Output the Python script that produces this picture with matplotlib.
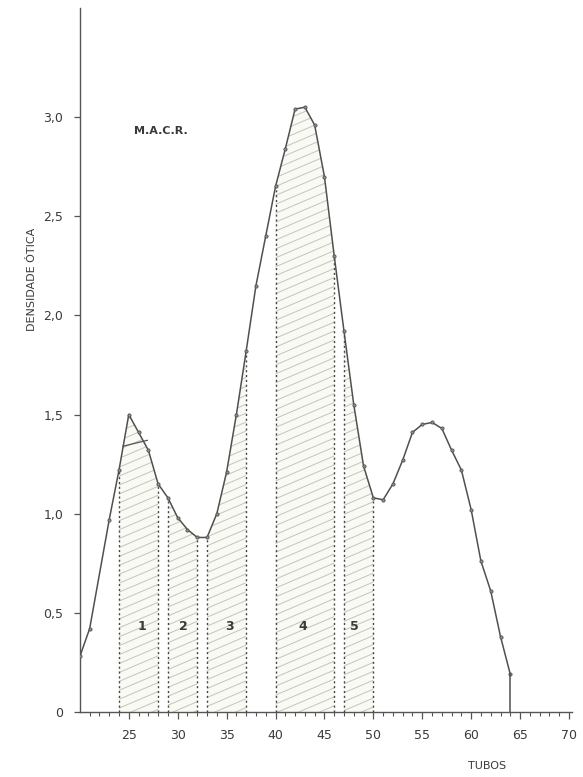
import numpy as np
import matplotlib.pyplot as plt
from matplotlib.patches import Polygon

# tubos e densidade otica
tubos = [20, 21, 23, 24, 25, 26, 27, 28, 29, 30, 31, 32, 33, 34, 35, 36, 37, 38, 39,
         40, 41, 42, 43, 44, 45, 46, 47, 48, 49, 50, 51, 52, 53, 54, 55, 56, 57, 58,
         59, 60, 61, 62, 63, 64]
densidade = [0.28, 0.42, 0.97, 1.22, 1.50, 1.41, 1.32, 1.15, 1.08, 0.98, 0.92, 0.88,
             0.88, 1.00, 1.21, 1.50, 1.82, 2.15, 2.40, 2.65, 2.84, 3.04, 3.05, 2.96,
             2.70, 2.30, 1.92, 1.55, 1.24, 1.08, 1.07, 1.15, 1.27, 1.41, 1.45, 1.46,
             1.43, 1.32, 1.22, 1.02, 0.76, 0.61, 0.38, 0.19]

# fracoes (inicio, fim, rotulo)
frac_ini = [24, 29, 33, 40, 47]
frac_fim = [28, 32, 37, 46, 50]
frac_rot = ['1', '2', '3', '4', '5']
rot_x = [26.3, 30.6, 35.3, 42.8, 48.1]

y_ticks = [0, 0.5, 1.0, 1.5, 2.0, 2.5, 3.0]
y_labels = ['0', '0,5', '1,0', '1,5', '2,0', '2,5', '3,0']
x_ticks = [25, 30, 35, 40, 45, 50, 55, 60, 65, 70]

cor = '#3a3a3a'
x = np.array(tubos)
y = np.array(densidade)

fig = plt.figure(figsize=(5.83, 7.77), dpi=100)
ax = fig.add_axes([0.137, 0.0837, 0.844, 0.906])

# areas hachuradas
for a, b in zip(frac_ini, frac_fim):
    m = (x >= a) & (x <= b)
    verts = [(a, 0)] + list(zip(x[m], y[m])) + [(b, 0)]
    poly = Polygon(verts, closed=True, facecolor='#fafaf5', edgecolor='none', zorder=1)
    ax.add_patch(poly)
    xs = np.array([a - 1, b + 1])
    for c in np.arange(-2.0, 3.5, 0.045):
        ln, = ax.plot(xs, c + 0.021 * (xs - 20), color='#c4c4bc', lw=0.7, zorder=2)
        ln.set_clip_path(poly)
    for xv in (a, b):
        yv = y[x == xv][0]
        ax.plot([xv, xv], [0, yv], color='#444444', lw=1.0, ls=(0, (1.5, 2)), zorder=3)

# linha extra no topo da fracao 1
ax.plot([24.4, 26.9], [1.34, 1.37], color='#555555', lw=0.9, zorder=3)

ax.plot(x, y, color='#505050', lw=1.1, marker='o', ms=2.3, mfc='#909090',
        mec='#505050', mew=0.6, zorder=4)
ax.plot([64, 64], [0, densidade[-1]], color='#505050', lw=1.1, zorder=4)

for xr, t in zip(rot_x, frac_rot):
    ax.text(xr, 0.43, t, fontsize=9, fontweight='bold', color=cor,
            ha='center', va='center', zorder=5)

ax.text(28.3, 2.93, 'M.A.C.R.', fontsize=8, fontweight='bold', color=cor,
        ha='center', va='center', family='DejaVu Sans Condensed')

ax.set_xlim(20, 70.3)
ax.set_ylim(0, 3.55)
ax.spines['top'].set_visible(False)
ax.spines['right'].set_visible(False)
for s in ('left', 'bottom'):
    ax.spines[s].set_color('#555555')
    ax.spines[s].set_linewidth(1.0)

ax.set_xticks(x_ticks)
ax.set_xticks(np.arange(21, 71, 1), minor=True)
ax.set_yticks(y_ticks)
ax.set_yticklabels(y_labels)
ax.tick_params(axis='x', which='major', length=5, width=0.9, color='#555555',
               labelsize=9, labelcolor=cor, pad=7)
ax.tick_params(axis='x', which='minor', length=3, width=0.8, color='#555555')
ax.tick_params(axis='y', which='major', length=4, width=0.9, color='#555555',
               labelsize=9, labelcolor=cor, pad=8)

fig.text(0.055, 0.64, 'DENSIDADE ÓTICA', rotation=90, fontsize=8, color=cor,
         ha='center', va='center', family='DejaVu Sans Condensed')
fig.text(0.835, 0.014, 'TUBOS', fontsize=8, color=cor, ha='center', va='center',
         family='DejaVu Sans Condensed')

fig.savefig('out.png', dpi=100, facecolor='white')
